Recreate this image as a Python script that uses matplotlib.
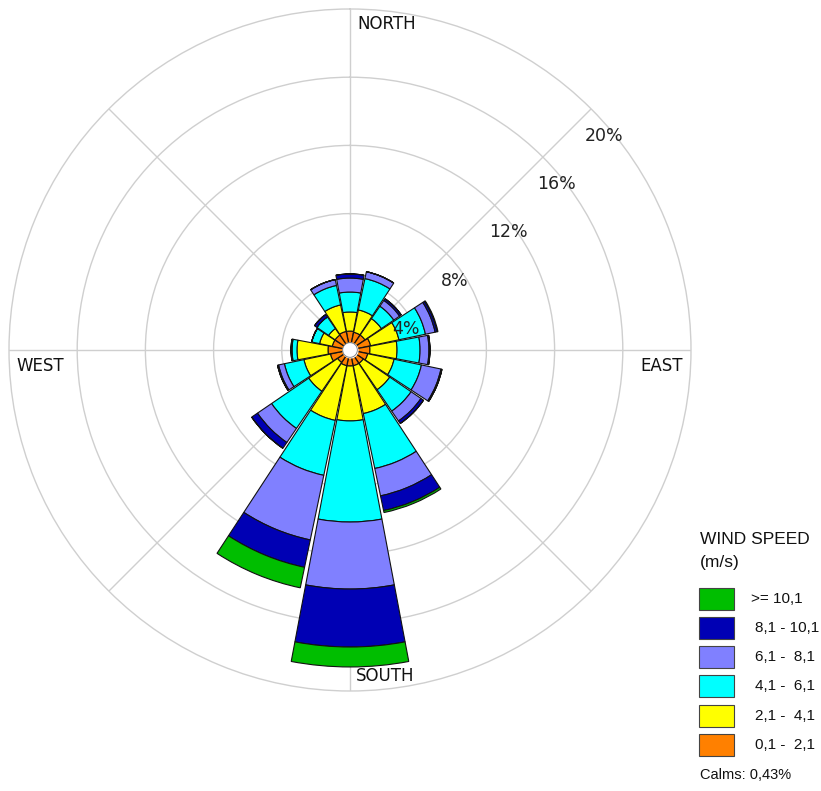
import numpy as np
import matplotlib.pyplot as plt
from matplotlib.patches import Rectangle

# Wind direction sectors (clockwise from north)
directions = ["N", "NNE", "NE", "ENE", "E", "ESE", "SE", "SSE",
              "S", "SSW", "SW", "WSW", "W", "WNW", "NW", "NNW"]

# Frequency (%) of each speed class per direction
speed_0_2 = [1.11, 1.06, 1.06, 1.23, 1.17, 1.06, 0.94, 0.94,
             0.94, 0.94, 0.88, 1.17, 1.29, 1.06, 1.06, 1.11]
speed_2_4 = [1.12, 1.34, 1.17, 1.70, 1.59, 1.58, 1.88, 2.87,
             3.22, 3.28, 2.05, 1.59, 1.82, 0.76, 0.46, 1.59]
speed_4_6 = [1.17, 1.88, 0.88, 1.59, 1.35, 1.64, 1.52, 3.29,
             5.93, 3.29, 2.64, 1.17, 0.29, 0.47, 0.83, 1.17]
speed_6_8 = [0.82, 0.41, 0.41, 0.58, 0.52, 1.17, 0.70, 1.64,
             3.93, 3.87, 1.00, 0.35, 0.03, 0.00, 0.00, 0.35]
speed_8_10 = [0.24, 0.00, 0.12, 0.12, 0.06, 0.06, 0.18, 0.88,
              3.40, 1.64, 0.41, 0.06, 0.03, 0.00, 0.17, 0.00]
speed_10_up = [0.00, 0.00, 0.00, 0.05, 0.00, 0.00, 0.00, 0.12,
               1.17, 1.23, 0.00, 0.00, 0.00, 0.00, 0.00, 0.00]

class_labels = [">= 10,1", "8,1 - 10,1", "6,1 -  8,1",
                "4,1 -  6,1", "2,1 -  4,1", "0,1 -  2,1"]
calms = 0.43
ring_values = [4, 8, 12, 16, 20]

colors = ["#FF8000", "#FFFF00", "#00FFFF", "#8080FF", "#0000B4", "#00BE00"]

W, H = 821, 791
fig = plt.figure(figsize=(W / 100, H / 100), dpi=100)

cx, cy, R = 350, 350, 341
ax = fig.add_axes([(cx - R) / W, (H - cy - R) / H, 2 * R / W, 2 * R / H],
                  projection="polar")
ax.set_theta_zero_location("N")
ax.set_theta_direction(-1)
ax.set_ylim(0, 20)
ax.set_axisbelow(True)

grid_color = "#cfcfcf"
ax.set_thetagrids(np.arange(0, 360, 45), labels=[""] * 8)
ax.set_rgrids([4, 8, 12, 16], labels=[""] * 4)
ax.grid(True, color=grid_color, linewidth=1.0)
ax.spines["polar"].set_color(grid_color)
ax.spines["polar"].set_linewidth(1.0)
ax.tick_params(length=0)

theta = np.deg2rad(np.arange(16) * 22.5)
width = np.deg2rad(22.5) * 0.95
series = [speed_0_2, speed_2_4, speed_4_6, speed_6_8, speed_8_10, speed_10_up]
bottom = np.zeros(16)
for vals, col in zip(series, colors):
    vals = np.asarray(vals)
    ax.bar(theta, vals, width=width, bottom=bottom, color=col,
           edgecolor="#111111", linewidth=0.8, zorder=3)
    bottom = bottom + vals

# calm circle in the centre
t = np.linspace(0, 2 * np.pi, 200)
ax.fill_between(t, 0, calms, color="white", zorder=5)
ax.plot(t, np.full_like(t, calms), color="#777777", linewidth=0.6, zorder=6)

# percentage labels on the rings
for rv in ring_values:
    ax.annotate(f"{rv}%", xy=(np.deg2rad(45), rv), xytext=(-4.3, -19.5),
                textcoords="offset points", ha="left", va="center",
                fontsize=12.5, color="#222222", zorder=7,
                family="DejaVu Sans")


def ftext(x, y, s, **kw):
    fig.text(x / W, 1 - y / H, s, **kw)


dir_kw = dict(fontsize=12, color="#111111", va="center", ha="left",
              family="DejaVu Sans")
ftext(357, 24, "NORTH", **dir_kw)
ftext(16, 366, "WEST", **dir_kw)
ftext(640, 366, "EAST", **dir_kw)
ftext(356, 676, "SOUTH", **dir_kw)

# legend
leg_kw = dict(family="Liberation Sans", color="#111111", va="center", ha="left")
ftext(700, 540, "WIND SPEED", fontsize=12.5, **leg_kw)
ftext(700, 562, "(m/s)", fontsize=12.5, **leg_kw)
box_y = [599, 628, 657, 686, 716, 745]
legend_colors = colors[::-1]
for i, (lab, col) in enumerate(zip(class_labels, legend_colors)):
    yc = box_y[i]
    fig.patches.append(Rectangle((699 / W, 1 - (yc + 11) / H), 35 / W, 22 / H,
                                 transform=fig.transFigure, facecolor=col,
                                 edgecolor="#444444", linewidth=0.8))
    ftext(751 if i == 0 else 755, yc, lab, fontsize=11, **leg_kw)
ftext(700, 775, "Calms: 0,43%", fontsize=10.5, **leg_kw)

fig.savefig("out.png", dpi=100)
